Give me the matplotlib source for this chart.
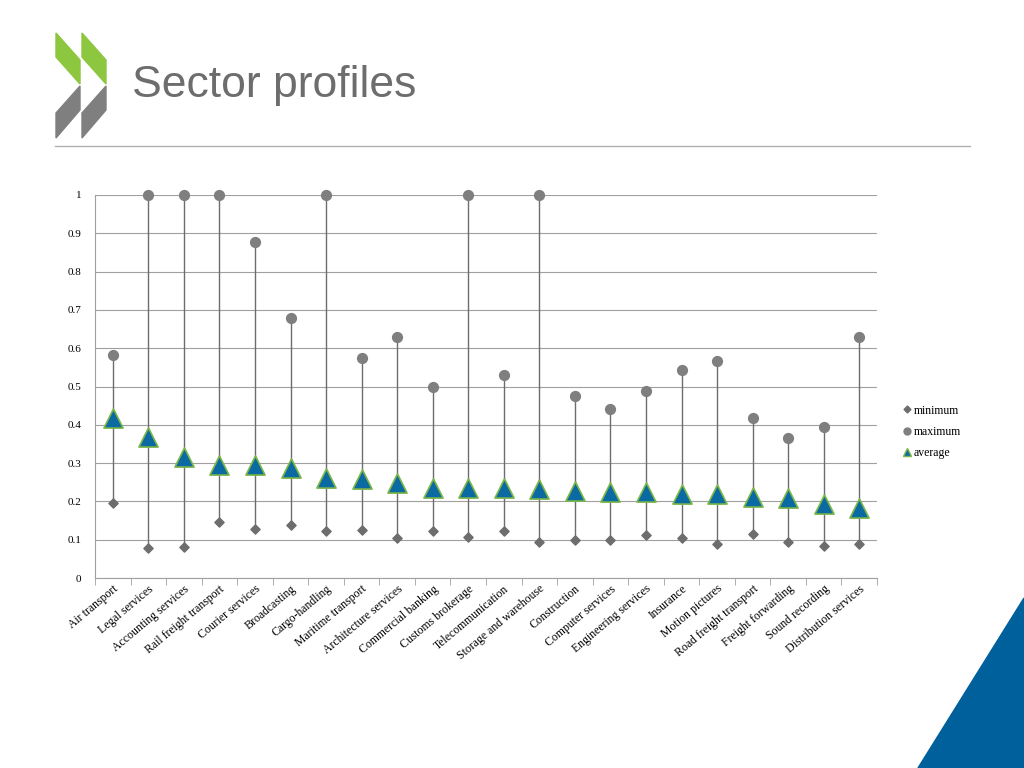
import matplotlib
matplotlib.use("Agg")
import matplotlib.pyplot as plt
import matplotlib.transforms as mtrans
from matplotlib.patches import Polygon
from matplotlib.lines import Line2D

categories = ["Air transport","Legal services","Accounting services","Rail freight transport",
 "Courier services","Broadcasting","Cargo-handling","Maritime transport","Architecture services",
 "Commercial banking","Customs brokerage","Telecommunication","Storage and warehouse","Construction",
 "Computer services","Engineering services","Insurance","Motion pictures","Road freight transport",
 "Freight forwarding","Sound recording","Distribution services"]
maximum = [0.582,1,1,1,0.877,0.679,1,0.574,0.629,0.499,1,0.530,1,0.475,0.441,0.488,0.543,0.567,0.418,0.366,0.394,0.629]
average = [0.418,0.368,0.316,0.295,0.295,0.287,0.261,0.258,0.248,0.235,0.235,0.235,0.232,0.227,0.225,0.225,0.219,0.219,0.211,0.209,0.193,0.183]
minimum = [0.196,0.078,0.081,0.146,0.128,0.138,0.123,0.125,0.104,0.123,0.107,0.123,0.094,0.099,0.099,0.112,0.104,0.089,0.115,0.094,0.084,0.089]
yticks = [0,0.1,0.2,0.3,0.4,0.5,0.6,0.7,0.8,0.9,1]

W,H=1024,768
fig = plt.figure(figsize=(10.24,7.68), dpi=100)
def fc(pts): return [(x/W, 1-y/H) for x,y in pts]
fig.patches.append(Polygon(fc([(918,768),(1024,598),(1024,768)]), closed=True, color="#00609c", transform=fig.transFigure))
for dx in (0,26):
    fig.patches.append(Polygon(fc([(56+dx,33),(80+dx,60),(80+dx,84),(56+dx,57)]), closed=True, color="#8dc63f", transform=fig.transFigure))
    fig.patches.append(Polygon(fc([(56+dx,113),(80+dx,86),(80+dx,110),(56+dx,138)]), closed=True, color="#7f7f7f", transform=fig.transFigure))
fig.text(132/W, 1-85/H, "Sector profiles", fontsize=32, color="#6d6d6d", va="center", ha="left", family="Liberation Sans")
fig.add_artist(Line2D([55/W,970/W],[1-146/H,1-146/H], color="#b0b0b0", lw=1))

ax = fig.add_axes([95/W, 1-578/H, (877-95)/W, (578-195)/H])
x = list(range(len(categories)))
ax.vlines(x, minimum, maximum, color="#6d6d6d", lw=1, zorder=2)
ax.scatter(x, minimum, marker="D", s=22, color="#6d6d6d", zorder=3, label="minimum", clip_on=False)
ax.scatter(x, maximum, marker="o", s=50, color="#7f7f7f", zorder=3, label="maximum", clip_on=False)
ax.scatter(x, average, marker="^", s=190, color="#0b6aa2", edgecolors="#7ab648", linewidths=1.2, zorder=4, label="average", clip_on=False)
ax.set_xlim(-0.5, len(categories)-0.5)
ax.set_ylim(0,1)
ax.set_yticks(yticks)
ax.set_yticklabels([f"{v:g}" for v in yticks], family="Liberation Serif", fontsize=8)
ax.set_xticks(x)
ax.set_xticklabels(categories, rotation=40, ha="right", rotation_mode="anchor", family="Liberation Serif", fontsize=8.5)
off = mtrans.ScaledTranslation(8/100, -6/100, fig.dpi_scale_trans)
for lab in ax.get_xticklabels():
    lab.set_transform(lab.get_transform() + off)
ax.grid(axis="y", color="#a0a0a0", lw=0.8)
ax.set_axisbelow(True)
for s in ("top","right"): ax.spines[s].set_visible(False)
for s in ("left","bottom"): ax.spines[s].set_color("#a0a0a0")
ax.tick_params(axis="y", length=0, pad=10)
ax.set_xticks([i-0.5 for i in range(len(categories)+1)], minor=True)
ax.tick_params(axis="x", which="minor", length=5, color="#a0a0a0")
ax.tick_params(axis="x", which="major", length=0)
fig.legend(handles=[
    Line2D([],[],marker="D",ls="",color="#6d6d6d",markersize=3.5,label="minimum"),
    Line2D([],[],marker="o",ls="",color="#7f7f7f",markersize=5,label="maximum"),
    Line2D([],[],marker="^",ls="",color="#0b6aa2",markeredgecolor="#7ab648",markersize=6,label="average")],
    loc="center left", bbox_to_anchor=(890/W, 1-432/H), frameon=False,
    prop={"family":"Liberation Serif","size":8.5}, handletextpad=0.1, handlelength=1, labelspacing=0.8)
fig.savefig("out.png", dpi=100)
